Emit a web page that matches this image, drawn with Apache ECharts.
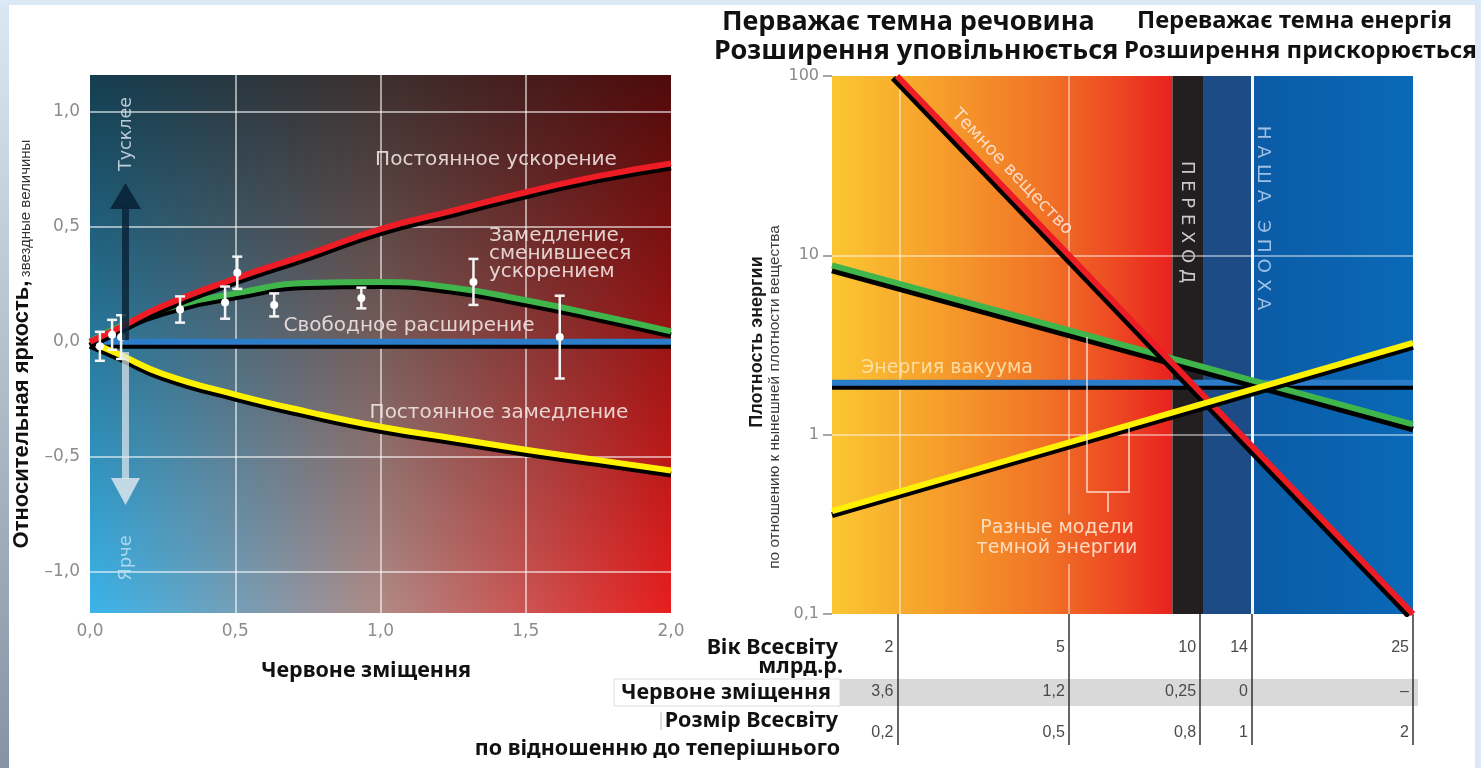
<!DOCTYPE html>
<html>
<head>
<meta charset="utf-8">
<script src="https://cdn.jsdelivr.net/npm/echarts@6.0.0/dist/echarts.min.js"></script>
<style>
  html, body { margin: 0; padding: 0; background: #ffffff; }
  #chart { width: 1481px; height: 768px; }
</style>
</head>
<body>
<div id="chart"></div>
<script>
// ---------- Left panel: supernova brightness vs redshift ----------
const zGrid          = [0, 0.1, 0.25, 0.5, 0.75, 1.0, 1.25, 1.5, 1.75, 2.0];
const constAccel     = [0, 0.06, 0.155, 0.275, 0.38, 0.49, 0.57, 0.65, 0.72, 0.775];
const decelThenAccel = [0, 0.065, 0.14, 0.21, 0.255, 0.26, 0.235, 0.18, 0.115, 0.045];
const freeExpansion  = [0, 0, 0, 0, 0, 0, 0, 0, 0, 0];
const constDecel     = [0, -0.055, -0.14, -0.23, -0.305, -0.37, -0.42, -0.47, -0.515, -0.56];

const snZ   = [0.034, 0.076, 0.107, 0.31, 0.465, 0.507, 0.634, 0.934, 1.32, 1.617];
const snMag = [-0.02, 0.03, 0.02, 0.14, 0.17, 0.30, 0.16, 0.19, 0.26, 0.02];
const snErr = [0.063, 0.065, 0.095, 0.057, 0.07, 0.07, 0.05, 0.045, 0.10, 0.18];

const leftXRange = [0, 2];
const leftYRange = [-1.18, 1.16];
const leftXTicks = [0, 0.5, 1, 1.5, 2];
const leftYTicks = [-1, -0.5, 0, 0.5, 1];
const leftGridX  = [0.5, 1, 1.5];
const leftGridY  = [-1, -0.5, 0.5, 1];

// ---------- Right panel: energy density vs scale factor ----------
const ageGyr   = [2, 5, 10, 14, 25];
const redshift = [3.6, 1.2, 0.25, 0, null];
const sizeRel  = [0.2, 0.5, 0.8, 1, 2];

const scaleRange   = [0.164, 2];
const densityRange = [0.1, 100];
const densityTicks = [0.1, 1, 10, 100];
const densityGrid  = [1, 10];

const darkMatter        = [[0.217, 100], [2, 0.1]];
const vacuumEnergy      = [[0.164, 1.95], [2, 1.95]];
const darkEnergyFalling = [[0.164, 8.8], [2, 1.14]];
const darkEnergyRising  = [[0.164, 0.375], [2, 3.25]];
const transitionBand    = [0.71, 0.81];
// gap left in the z = 1.2 line for the "dark energy models" caption
const captionGap        = [0.19, 0.36];

// scale factor of each table column: 1/(1+z), or the relative size for the future column
const columnScale = redshift.map((z, i) => z === null ? sizeRel[i] : 1 / (1 + z));
function colIndex(v) {
  let best = 0, d = Infinity;
  columnScale.forEach((c, i) => {
    const dd = Math.abs(Math.log(c) - Math.log(v));
    if (dd < d) { d = dd; best = i; }
  });
  return best;
}
const comma = s => String(s).replace('.', ',');

const chart = echarts.init(document.getElementById('chart'));
const G = echarts.graphic;

const shadowLine = (color, width, ox, oy) => ({
  color, width, shadowColor: '#000', shadowBlur: 0, shadowOffsetX: ox, shadowOffsetY: oy
});
const pairs = (xs, ys) => xs.map((x, i) => [x, ys[i]]);

const annFont = '20px "DejaVu Sans"';
const annFill = 'rgba(240,228,226,0.9)';
const boldFont = (px) => 'bold ' + px + 'px "Noto Sans"';

const txt = (x, y, text, font, fill, extra) => Object.assign({
  type: 'text', x, y, silent: true, z: 100,
  style: Object.assign({ text, font, fill, align: 'center', verticalAlign: 'middle',
    textAlign: 'center', textVerticalAlign: 'middle' }, (extra && extra.style) || {})
}, extra ? { rotation: extra.rotation || 0 } : {});
const right = { style: { align: 'right', textAlign: 'right' } };
const left = { style: { align: 'left', textAlign: 'left' } };

const tableAxis = (margin, formatter) => ({
  gridIndex: 1, type: 'log', logBase: 10, position: 'bottom',
  min: scaleRange[0], max: scaleRange[1], z: 10,
  axisLine: { show: false }, axisTick: { show: false }, splitLine: { show: false },
  axisLabel: {
    customValues: columnScale, margin, align: 'right', padding: [0, 4, 0, 0],
    color: '#4a4a4a', fontSize: 16, fontFamily: 'Liberation Sans', formatter
  }
});

const option = {
  animation: false,
  backgroundColor: '#ffffff',
  grid: [
    { left: 90, top: 75, width: 581, height: 538, containLabel: false, outerBoundsMode: 'none' },
    { left: 832, top: 76, width: 581, height: 538, containLabel: false, outerBoundsMode: 'none' }
  ],
  xAxis: [
    {
      gridIndex: 0, type: 'value', position: 'bottom', min: leftXRange[0], max: leftXRange[1],
      axisLine: { show: false }, axisTick: { show: false }, splitLine: { show: false },
      axisLabel: {
        customValues: leftXTicks, margin: 10, color: '#8c8c8c', fontSize: 17,
        fontFamily: 'DejaVu Sans', formatter: v => comma(v.toFixed(1))
      }
    },
    {
      gridIndex: 1, type: 'log', logBase: 10, position: 'bottom', min: scaleRange[0], max: scaleRange[1],
      axisLine: { show: false }, splitLine: { show: false }, axisLabel: { show: false },
      axisTick: { show: true, customValues: columnScale, length: 131, lineStyle: { color: '#333', width: 1.5 } }
    },
    tableAxis(26, v => String(ageGyr[colIndex(v)])),
    tableAxis(70, v => { const z = redshift[colIndex(v)]; return z === null ? '–' : comma(z); }),
    tableAxis(111, v => comma(sizeRel[colIndex(v)]))
  ],
  yAxis: [
    {
      gridIndex: 0, type: 'value', min: leftYRange[0], max: leftYRange[1],
      axisLine: { show: false }, axisTick: { show: false }, splitLine: { show: false },
      axisLabel: {
        customValues: leftYTicks, margin: 10, color: '#8c8c8c', fontSize: 17,
        fontFamily: 'DejaVu Sans',
        formatter: v => (v < 0 ? '–' : '') + comma(Math.abs(v).toFixed(1))
      },
      name: '{b|Относительная яркость,} {n|звездные величины}',
      nameLocation: 'middle', nameGap: 57, nameRotate: 90,
      nameTextStyle: {
        rich: {
          b: { fontFamily: 'Liberation Sans', fontWeight: 'bold', fontSize: 22, color: '#111',
               verticalAlign: 'bottom', lineHeight: 24 },
          n: { fontFamily: 'Liberation Sans', fontSize: 15, color: '#333',
               verticalAlign: 'bottom', lineHeight: 24 }
        }
      }
    },
    {
      gridIndex: 1, type: 'log', logBase: 10, min: densityRange[0], max: densityRange[1],
      axisLine: { show: false }, splitLine: { show: false },
      axisTick: { show: true, customValues: densityTicks, length: 9, lineStyle: { color: '#8a8a8a', width: 1.5 } },
      axisLabel: {
        customValues: densityTicks, margin: 13, color: '#8a8a8a', fontSize: 16,
        fontFamily: 'DejaVu Sans',
        formatter: v => v >= 1 ? String(Math.round(v)) : comma(v.toFixed(1))
      }
    }
  ],
  series: [
    // left background: blue-to-red with darkening toward the top
    {
      type: 'line', xAxisIndex: 0, yAxisIndex: 0, data: [], z: 1, silent: true,
      markArea: {
        silent: true,
        data: [[
          { coord: [leftXRange[0], leftYRange[0]], itemStyle: { opacity: 1,
            color: new G.LinearGradient(0, 0, 1, 0, [
              { offset: 0, color: '#3ab4ea' }, { offset: 0.5, color: '#b08a86' }, { offset: 1, color: '#e81d1d' }]) } },
          { coord: [leftXRange[1], leftYRange[1]] }
        ]]
      }
    },
    {
      type: 'line', xAxisIndex: 0, yAxisIndex: 0, data: [], z: 2, silent: true,
      markArea: {
        silent: true,
        data: [[
          { coord: [leftXRange[0], leftYRange[0]], itemStyle: { opacity: 1,
            color: new G.LinearGradient(0, 0, 0, 1, [
              { offset: 0, color: 'rgba(0,0,0,0.66)' }, { offset: 1, color: 'rgba(0,0,0,0)' }]) } },
          { coord: [leftXRange[1], leftYRange[1]] }
        ]]
      }
    },
    // left grid lines
    {
      type: 'line', xAxisIndex: 0, yAxisIndex: 0, data: [], z: 3, silent: true,
      markLine: {
        silent: true, symbol: ['none', 'none'], label: { show: false },
        lineStyle: { color: 'rgba(255,255,255,0.55)', width: 2, type: 'solid' },
        data: leftGridX.map(v => ({ xAxis: v })).concat(leftGridY.map(v => ({ yAxis: v })))
      }
    },
    // cosmological models
    { type: 'line', name: 'Свободное расширение', xAxisIndex: 0, yAxisIndex: 0, z: 5, smooth: true, showSymbol: false, silent: true,
      lineStyle: shadowLine('#2b7cc9', 6, 0, 4), data: pairs(zGrid, freeExpansion) },
    { type: 'line', name: 'Постоянное замедление', xAxisIndex: 0, yAxisIndex: 0, z: 5, smooth: true, showSymbol: false, silent: true,
      lineStyle: shadowLine('#fff200', 6, 0, 4), data: pairs(zGrid, constDecel) },
    { type: 'line', name: 'Замедление, сменившееся ускорением', xAxisIndex: 0, yAxisIndex: 0, z: 5, smooth: true, showSymbol: false, silent: true,
      lineStyle: shadowLine('#3fb54c', 6, 0, 4), data: pairs(zGrid, decelThenAccel) },
    { type: 'line', name: 'Постоянное ускорение', xAxisIndex: 0, yAxisIndex: 0, z: 5, smooth: true, showSymbol: false, silent: true,
      lineStyle: shadowLine('#ee1c25', 6, 0, 4), data: pairs(zGrid, constAccel) },
    // supernova measurements with error bars
    {
      type: 'custom', xAxisIndex: 0, yAxisIndex: 0, z: 6, silent: true,
      data: snZ.map((z, i) => [z, snMag[i], snErr[i]]),
      renderItem(params, api) {
        const x = api.value(0), y = api.value(1), e = api.value(2);
        const p = api.coord([x, y]);
        const top = api.coord([x, y + e])[1], bot = api.coord([x, y - e])[1];
        const st = { stroke: '#f4f4f4', lineWidth: 2.5 };
        return { type: 'group', children: [
          { type: 'line', shape: { x1: p[0], y1: top, x2: p[0], y2: bot }, style: st },
          { type: 'line', shape: { x1: p[0] - 5, y1: top, x2: p[0] + 5, y2: top }, style: st },
          { type: 'line', shape: { x1: p[0] - 5, y1: bot, x2: p[0] + 5, y2: bot }, style: st },
          { type: 'circle', shape: { cx: p[0], cy: p[1], r: 4 }, style: { fill: '#ffffff' } }
        ] };
      }
    },

    // right background zones
    {
      type: 'line', xAxisIndex: 1, yAxisIndex: 1, data: [], z: 1, silent: true,
      markArea: {
        silent: true,
        data: [
          [{ coord: [scaleRange[0], densityRange[0]], itemStyle: { opacity: 1,
              color: new G.LinearGradient(0, 0, 1, 0, [
                { offset: 0, color: '#fbc632' }, { offset: 0.3, color: '#f6a02b' },
                { offset: 0.62, color: '#f17426' }, { offset: 0.85, color: '#ec4522' }, { offset: 1, color: '#e8211e' }]) } },
           { coord: [transitionBand[0], densityRange[1]] }],
          [{ coord: [transitionBand[1], densityRange[0]], itemStyle: { opacity: 1, color: '#1c4b85' } },
           { coord: [1, densityRange[1]] }],
          [{ coord: [1, densityRange[0]], itemStyle: { opacity: 1,
              color: new G.LinearGradient(0, 0, 1, 0, [
                { offset: 0, color: '#0b5ba5' }, { offset: 1, color: '#0a69b7' }]) } },
           { coord: [scaleRange[1], densityRange[1]] }]
        ]
      }
    },
    // right grid lines
    {
      type: 'line', xAxisIndex: 1, yAxisIndex: 1, data: [], z: 2, silent: true,
      markLine: {
        silent: true, symbol: ['none', 'none'], label: { show: false },
        lineStyle: { color: 'rgba(255,255,255,0.6)', width: 1.5, type: 'solid' },
        data: densityGrid.map(v => ({ yAxis: v }))
          .concat([{ xAxis: columnScale[0] }])
          .concat([
            [{ coord: [columnScale[1], densityRange[1]] }, { coord: [columnScale[1], captionGap[1]] }],
            [{ coord: [columnScale[1], captionGap[0]] }, { coord: [columnScale[1], densityRange[0]] }]
          ])
          .concat([{ xAxis: 1, lineStyle: { color: 'rgba(255,255,255,0.95)', width: 3, type: 'solid' } }])
      }
    },
    // transition epoch band
    {
      type: 'line', xAxisIndex: 1, yAxisIndex: 1, data: [], z: 3, silent: true,
      markArea: {
        silent: true,
        data: [[{ coord: [transitionBand[0], densityRange[0]], itemStyle: { opacity: 1, color: '#231f20' } },
                { coord: [transitionBand[1], densityRange[1]] }]]
      }
    },
    { type: 'line', name: 'Энергия вакуума', xAxisIndex: 1, yAxisIndex: 1, z: 5, showSymbol: false, silent: true,
      lineStyle: shadowLine('#2b7cc9', 6, 0, 4), data: vacuumEnergy },
    { type: 'line', name: 'Темная энергия (убывающая)', xAxisIndex: 1, yAxisIndex: 1, z: 5, showSymbol: false, silent: true,
      lineStyle: shadowLine('#3fb54c', 6, 0, 5), data: darkEnergyFalling },
    { type: 'line', name: 'Темное вещество', xAxisIndex: 1, yAxisIndex: 1, z: 5, showSymbol: false, silent: true,
      lineStyle: shadowLine('#ee1c25', 6, -4, 2), data: darkMatter },
    { type: 'line', name: 'Темная энергия (растущая)', xAxisIndex: 1, yAxisIndex: 1, z: 5, showSymbol: false, silent: true,
      lineStyle: shadowLine('#fff200', 6, 0, 4), data: darkEnergyRising }
  ],
  graphic: [
    // slide frame
    { type: 'rect', silent: true, z: 0, shape: { x: 0, y: 0, width: 9, height: 768 },
      style: { fill: new G.LinearGradient(0, 0, 0, 1, [{ offset: 0, color: '#dae8f5' }, { offset: 1, color: '#8593a2' }]) } },
    { type: 'rect', silent: true, z: 0, shape: { x: 0, y: 0, width: 1481, height: 5 }, style: { fill: '#dbe8f5' } },
    { type: 'rect', silent: true, z: 0, shape: { x: 1475, y: 0, width: 6, height: 768 }, style: { fill: '#dbe8f5' } },

    // table under the right panel
    { type: 'rect', silent: true, z: 0, shape: { x: 840, y: 679, width: 578, height: 27 }, style: { fill: '#d9d9d9' } },
    { type: 'rect', silent: true, z: 0, shape: { x: 614, y: 679, width: 226, height: 27 },
      style: { fill: 'transparent', stroke: '#dcdcdc', lineWidth: 1 } },
    { type: 'line', silent: true, z: 0, shape: { x1: 661, y1: 712, x2: 661, y2: 730 }, style: { stroke: '#bbbbbb', lineWidth: 1 } },

    txt(838, 648, 'Вік Всесвіту', boldFont(21.5), '#111', right),
    txt(843, 667, 'млрд.р.', boldFont(21.5), '#111', right),
    txt(831, 693, 'Червоне зміщення', boldFont(21.5), '#111', right),
    txt(838, 721, 'Розмір Всесвіту', boldFont(21.5), '#111', right),
    txt(840, 749, 'по відношенню до теперішнього', boldFont(21.5), '#111', right),
    txt(366, 671, 'Червоне зміщення', boldFont(21.5), '#111'),

    // titles above the right panel
    txt(722, 22, 'Перважає темна речовина', boldFont(27), '#111', left),
    txt(1137, 21, 'Переважає темна енергія', boldFont(23.8), '#111', left),
    txt(714, 51, 'Розширення уповільнюється', boldFont(27), '#111', left),
    txt(1124, 51, 'Розширення прискорюється', boldFont(24), '#111', left),

    // right axis title
    txt(757, 342, 'Плотность энергии', 'bold 18px "Liberation Sans"', '#1a1a1a', { rotation: Math.PI / 2 }),
    txt(775, 397, 'по отношению к нынешней плотности вещества', '15.4px "Liberation Sans"', '#3a3a3a', { rotation: Math.PI / 2 }),

    // left panel arrows
    { type: 'rect', silent: true, z: 50, shape: { x: 122, y: 206, width: 7, height: 134 }, style: { fill: 'rgba(10,36,56,0.85)' } },
    { type: 'polygon', silent: true, z: 50, shape: { points: [[110, 209], [125.5, 183], [141, 209]] }, style: { fill: 'rgba(10,36,56,0.9)' } },
    { type: 'rect', silent: true, z: 50, shape: { x: 122, y: 352, width: 7, height: 127 }, style: { fill: 'rgba(225,232,238,0.7)' } },
    { type: 'polygon', silent: true, z: 50, shape: { points: [[111, 478], [125.5, 505], [140, 478]] }, style: { fill: 'rgba(228,234,240,0.8)' } },
    txt(126, 134, 'Тусклее', '17.5px "DejaVu Sans"', 'rgba(215,225,235,0.85)', { rotation: Math.PI / 2 }),
    txt(126, 558, 'Ярче', '18px "DejaVu Sans"', 'rgba(195,228,242,0.8)', { rotation: Math.PI / 2 }),

    // left panel model labels
    txt(496, 160, 'Постоянное ускорение', annFont, annFill),
    txt(489, 254, 'Замедление,\nсменившееся\nускорением', annFont, annFill,
      { style: { align: 'left', textAlign: 'left', lineHeight: 18 } }),
    txt(409, 326, 'Свободное расширение', annFont, annFill),
    txt(499, 413, 'Постоянное замедление', annFont, annFill),

    // right panel labels
    txt(1012, 172, 'Темное вещество', '18px "DejaVu Sans"', 'rgba(255,228,215,0.9)', { rotation: -0.808 }),
    txt(1187, 222, 'П Е Р Е Х О Д', '18px "DejaVu Sans"', '#c9c9c9', { rotation: -Math.PI / 2 }),
    txt(1263, 218, 'Н А Ш А   Э П О Х А', '18.5px "DejaVu Sans"', '#9dc0e6', { rotation: -Math.PI / 2 }),
    txt(947, 368, 'Энергия вакуума', '19px "DejaVu Sans"', 'rgba(255,226,172,0.92)'),
    txt(1057, 538, 'Разные модели\nтемной энергии', '19px "DejaVu Sans"', 'rgba(255,228,205,0.92)',
      { style: { lineHeight: 20 } }),
    { type: 'polyline', silent: true, z: 60, shape: { points: [[1087, 337], [1087, 492], [1129, 492], [1129, 427]] },
      style: { stroke: 'rgba(255,240,230,0.85)', lineWidth: 1.5, fill: null } },
    { type: 'line', silent: true, z: 60, shape: { x1: 1108, y1: 492, x2: 1108, y2: 512 },
      style: { stroke: 'rgba(255,240,230,0.85)', lineWidth: 1.5 } }
  ]
};

chart.setOption(option);
</script>
</body>
</html>
